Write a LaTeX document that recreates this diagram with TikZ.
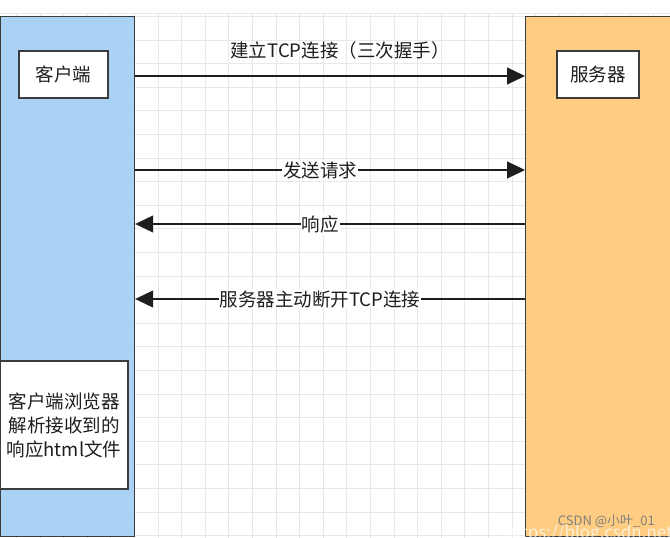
\documentclass[tikz,border=0pt]{standalone}
\usepackage{fontspec}
\newfontfamily\cjk{Noto Sans CJK SC}
\usetikzlibrary{arrows.meta}
\definecolor{clientblue}{RGB}{170,210,245}
\definecolor{serverorange}{RGB}{255,205,130}
\definecolor{gridgray}{RGB}{232,232,232}
\definecolor{edgegray}{RGB}{60,60,60}
\definecolor{inkblack}{RGB}{30,30,30}
\begin{document}
\begin{tikzpicture}[x=1pt,y=-1pt,
  every node/.style={font=\cjk\fontsize{18.5}{24}\selectfont, text=inkblack, inner sep=0pt},
  column/.style={draw=edgegray, line width=1.2pt, anchor=north west, minimum width=#1, minimum height=520},
  labelbox/.style={draw=edgegray, line width=1.2pt, fill=white},
  msg/.style={draw=inkblack, line width=1.1pt, -{Triangle[length=18pt,width=17pt]}},
  onlabel/.style={fill=white, inner sep=1pt}
]
\useasboundingbox (0,0) rectangle (670,538);
\fill[white] (0,0) rectangle (670,538);
% grid
\begin{scope}[gridgray, line width=0.9pt]
  \foreach \k in {0,...,27} { \draw (16.4+23.6*\k,13) -- (16.4+23.6*\k,538); }
  \foreach \k in {0,...,22} { \draw (0,16.4+23.6*\k) -- (670,16.4+23.6*\k); }
  \draw (0,13) -- (670,13);
\end{scope}
% columns
\node[column=134, fill=clientblue] (clientcol) at (0,16) {};
\node[column=160, fill=serverorange] (servercol) at (525,16) {};
% boxes
\node[labelbox, minimum width=89, minimum height=47] (client) at (63.5,74.5) {客户端};
\node[labelbox, minimum width=82, minimum height=47] (server) at (598,74.5) {服务器};
\node[labelbox, minimum width=128, minimum height=128, align=center] (parse) at (64,425)
  {客户端浏览器\\解析接收到的\\响应html文件};
% message rows
\coordinate (r1) at (0,76);
\coordinate (r2) at (0,170);
\coordinate (r3) at (0,224);
\coordinate (r4) at (0,299);
\draw[msg] (clientcol.east |- r1) -- (servercol.west |- r1);
\draw[msg] (clientcol.east |- r2) -- (servercol.west |- r2);
\draw[msg] (servercol.west |- r3) -- (clientcol.east |- r3);
\draw[msg] (servercol.west |- r4) -- (clientcol.east |- r4);
% labels
\node (l1) at (340,50) {建立TCP连接（三次握手）};
\node[onlabel] (l2) at (320,170) {发送请求};
\node[onlabel] (l3) at (320,224) {响应};
\node[onlabel] (l4) at (320,299) {服务器主动断开TCP连接};
% watermark
\begin{scope}
\clip (0,0) rectangle (670,538);
\node[font=\cjk\fontsize{13}{15}\selectfont, text=gray, anchor=east] (wm) at (655,521) {CSDN @小叶\_01};
\node[font=\cjk\fontsize{17}{19}\selectfont, text=white, text opacity=0.7, anchor=west] (url) at (505,534) {https://blog.csdn.net};
\end{scope}
\end{tikzpicture}
\end{document}
